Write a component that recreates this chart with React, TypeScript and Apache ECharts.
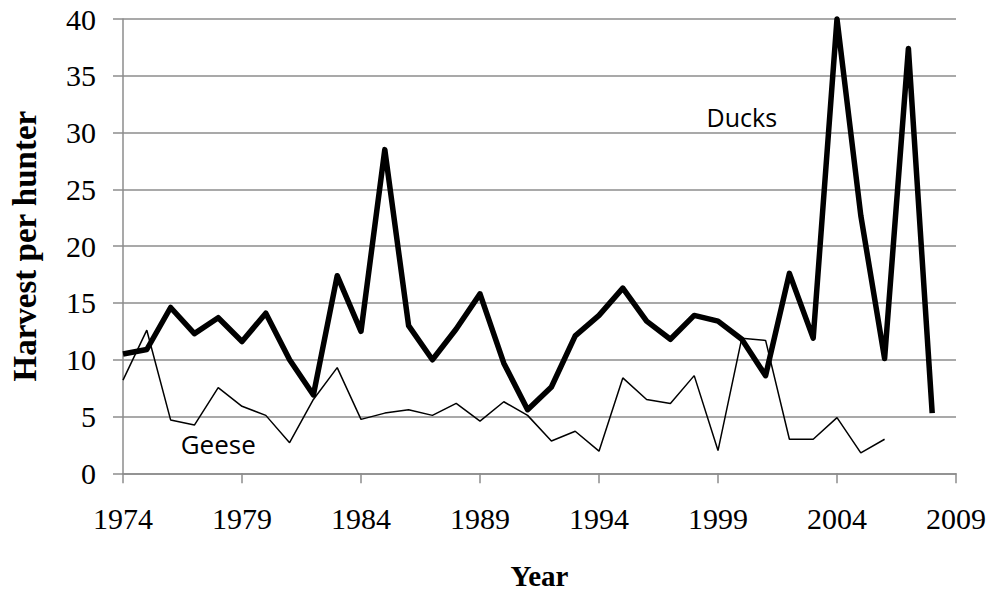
import React, { useEffect, useRef } from "react";
import * as echarts from "echarts";

const years = [
  "1974", "1975", "1976", "1977", "1978", "1979", "1980", "1981", "1982", "1983",
  "1984", "1985", "1986", "1987", "1988", "1989", "1990", "1991", "1992", "1993",
  "1994", "1995", "1996", "1997", "1998", "1999", "2000", "2001", "2002", "2003",
  "2004", "2005", "2006", "2007", "2008", "2009",
];

const ducks = [
  10.5, 10.9, 14.6, 12.3, 13.7, 11.6, 14.1, 10.0, 6.9, 17.4,
  12.5, 28.5, 13.0, 10.0, 12.7, 15.8, 9.7, 5.6, 7.6, 12.1,
  13.9, 16.3, 13.4, 11.8, 13.9, 13.4, 11.8, 8.6, 17.6, 11.9,
  40.0, 22.7, 10.1, 37.4, 5.3, null,
];

const geese = [
  8.2, 12.6, 4.7, 4.25, 7.55, 5.9, 5.1, 2.7, 6.5, 9.3,
  4.75, 5.3, 5.6, 5.1, 6.15, 4.6, 6.3, 5.1, 2.85, 3.7,
  1.95, 8.4, 6.5, 6.15, 8.6, 2.0, 11.9, 11.7, 3.0, 3.0,
  4.9, 1.8, 3.0, null, null, null,
];

const yTicks = { min: 0, max: 40, interval: 5 };

const serif = "'Liberation Serif', 'Times New Roman', serif";
const sans = "'Open Sans', 'Noto Sans', sans-serif";
const gridGray = "#8c8c8c";

export default function App() {
  const ref = useRef<HTMLDivElement>(null);

  useEffect(() => {
    document.body.style.margin = "0";
    if (!ref.current) return;
    const chart = echarts.init(ref.current, null, { renderer: "svg" });
    chart.setOption({
      animation: false,
      backgroundColor: "#ffffff",
      grid: { left: 119.5, right: 36, top: 19, bottom: 125.7, containLabel: false },
      xAxis: {
        type: "category",
        data: years,
        boundaryGap: false,
        name: "Year",
        nameLocation: "middle",
        nameGap: 88,
        nameTextStyle: { fontFamily: serif, fontSize: 29, fontWeight: "bold", color: "#000" },
        axisLine: { show: true, lineStyle: { color: gridGray, width: 1.5 } },
        axisTick: { show: true, interval: 4, length: 10, inside: false, lineStyle: { color: gridGray, width: 1.5 } },
        axisLabel: { interval: 4, margin: 30, fontFamily: serif, fontSize: 30, color: "#000" },
        splitLine: { show: false },
      },
      yAxis: {
        type: "value",
        min: yTicks.min,
        max: yTicks.max,
        interval: yTicks.interval,
        name: "Harvest per hunter",
        nameLocation: "middle",
        nameRotate: 90,
        nameGap: 82,
        nameTextStyle: { fontFamily: serif, fontSize: 33, fontWeight: "bold", color: "#000" },
        axisLine: { show: true, lineStyle: { color: gridGray, width: 1.5 } },
        axisTick: { show: true, length: 10, inside: false, lineStyle: { color: gridGray, width: 1.5 } },
        axisLabel: { margin: 27, fontFamily: serif, fontSize: 30, color: "#000" },
        splitLine: { show: true, lineStyle: { color: gridGray, width: 1.5 } },
      },
      series: [
        {
          name: "Ducks",
          type: "line",
          data: ducks,
          showSymbol: false,
          symbol: "none",
          clip: false,
          connectNulls: false,
          lineStyle: { color: "#000", width: 5.5, join: "round" },
          z: 3,
          markPoint: {
            symbol: "circle",
            symbolSize: 0,
            silent: true,
            label: {
              show: true,
              position: "inside",
              formatter: "Ducks",
              fontFamily: sans,
              fontSize: 25,
              color: "#000",
            },
            data: [{ coord: [26, 31.4], value: 0 }],
          },
        },
        {
          name: "Geese",
          type: "line",
          data: geese,
          showSymbol: false,
          symbol: "none",
          clip: false,
          connectNulls: false,
          lineStyle: { color: "#000", width: 1.5 },
          z: 2,
          markPoint: {
            symbol: "circle",
            symbolSize: 0,
            silent: true,
            label: {
              show: true,
              position: "inside",
              formatter: "Geese",
              fontFamily: sans,
              fontSize: 26,
              color: "#000",
            },
            data: [{ coord: [3.7, 2.6], value: 0 }],
          },
        },
      ],
    });
    return () => chart.dispose();
  }, []);

  return <div ref={ref} style={{ width: 992, height: 599 }} />;
}
